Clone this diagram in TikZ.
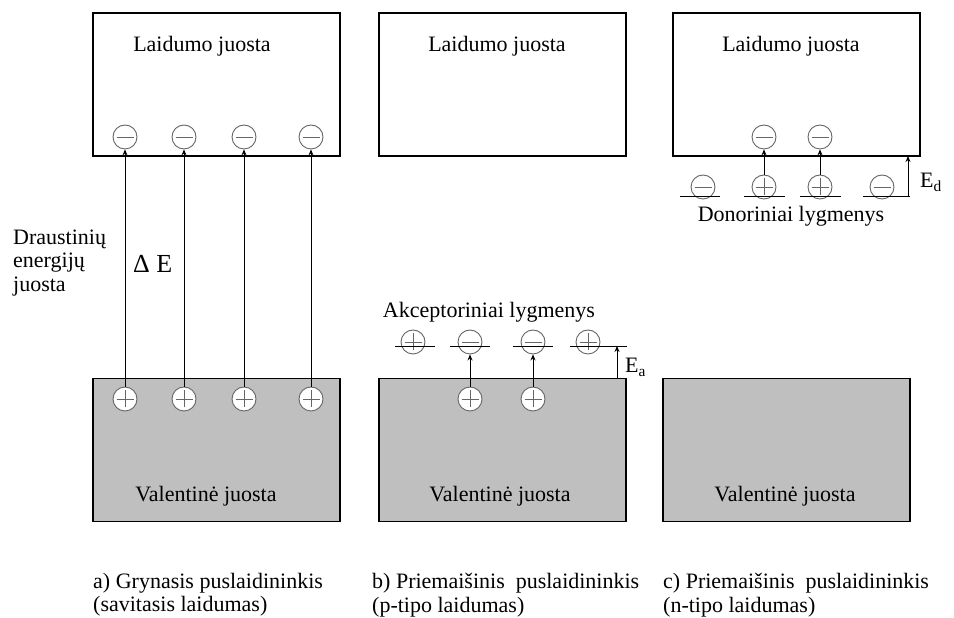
\documentclass[tikz,border=0pt]{standalone}
\usepackage{fontspec}
\setmainfont{Liberation Serif}
\usetikzlibrary{arrows.meta,positioning}
\tikzset{
  band/.style={draw, line width=1.8pt, minimum width=247pt, minimum height=143pt, inner sep=0pt},
  valence/.style={band, fill=gray!50},
  charge/.style={circle, draw=black!60, line width=0.9pt, fill=white, minimum size=24pt, inner sep=0pt},
  electron/.style={charge, path picture={\draw[line width=0.9pt] ([xshift=3.5pt]path picture bounding box.west) -- ([xshift=-3.5pt]path picture bounding box.east);}},
  hole/.style={charge, path picture={\draw[line width=0.9pt] ([xshift=3.5pt]path picture bounding box.west) -- ([xshift=-3.5pt]path picture bounding box.east) ([yshift=-3.5pt]path picture bounding box.north) -- ([yshift=3.5pt]path picture bounding box.south);}},
  level/.style={line width=0.9pt},
  jump/.style={->, line width=0.9pt},
  txt/.style={inner sep=0pt}
}

\begin{document}
\begin{tikzpicture}[x=1pt, y=1pt, font=\fontsize{22}{23.5}\selectfont, >={Stealth[length=6pt,width=5pt]}]
  \useasboundingbox (0,0) rectangle (954,618);
  % conduction and valence bands
  \node[band] (cba) at (216.5,533.5) {};
  \node[band] (cbb) at (502.5,533.5) {};
  \node[band] (cbc) at (796.5,533.5) {};
  \node[valence] (vba) at (216.5,168) {};
  \node[valence] (vbb) at (502.5,168) {};
  \node[valence] (vbc) at (786.5,168) {};
  \foreach \n/\x in {a/202,b/497,c/791}
    \node[txt, anchor=base] (lj\n) at (\x,566) {Laidumo juosta};
  \foreach \n/\x in {a/206,b/500,c/785}
    \node[txt, anchor=base] (vj\n) at (\x,116) {Valentinė juosta};
  % a) pure semiconductor
  \foreach \i/\x in {1/125,2/184,3/244,4/311} {
    \node[electron] (ea\i) at (\x,481) {};
    \node[hole] (ha\i) at (\x,219) {};
    \draw[jump] (ha\i) -- (ea\i);
  }
  \node[txt, anchor=base west, font=\fontsize{26}{28}\selectfont] (de) at (133,345) {Δ E};
  \node[txt, anchor=west, align=left] (gap) at (13,355) {Draustinių\\ energijų\\ juosta};
  % b) acceptor levels
  \node[hole] (ab1) at (413,276) {};
  \node[electron] (ab2) at (470,276) {};
  \node[electron] (ab3) at (533,276) {};
  \node[hole] (ab4) at (588,276) {};
  \foreach \x in {395,450,513} \draw[level] (\x,272) -- (\x+40,272);
  \draw[level] (570,272) -- (627,272);
  \node[hole] (hb2) at (470,219) {};
  \node[hole] (hb3) at (533,219) {};
  \draw[jump] (hb2) -- (ab2);
  \draw[jump] (hb3) -- (ab3);
  \coordinate (eab) at (617,240);
  \coordinate (eat) at (617,272);
  \draw[jump] (eab) -- (eat);
  \node[txt, anchor=base west] (ea) at (625,245) {E\textsubscript{a}};
  \node[txt, anchor=base] (akc) at (489,300) {Akceptoriniai lygmenys};
  % c) donor levels
  \node[electron] (dc1) at (703,431) {};
  \node[hole] (dc2) at (764,431) {};
  \node[hole] (dc3) at (820,431) {};
  \node[electron] (dc4) at (882,431) {};
  \draw[level] (680,422) -- (720,422);
  \draw[level] (744,422) -- (785,422);
  \draw[level] (800,422) -- (841,422);
  \draw[level] (863,422) -- (910,422);
  \node[electron] (ec2) at (764,481) {};
  \node[electron] (ec3) at (820,481) {};
  \draw[jump] (dc2) -- (ec2);
  \draw[jump] (dc3) -- (ec3);
  \coordinate (edb) at (908,422);
  \coordinate (edt) at (908,462);
  \draw[jump] (edb) -- (edt);
  \node[txt, anchor=base west] (ed) at (920,430) {E\textsubscript{d}};
  \node[txt, anchor=base] (don) at (791,396) {Donoriniai lygmenys};
  % captions
  \node[txt, anchor=north west, align=left] (capa) at (93,45) {a) Grynasis puslaidininkis\\ (savitasis laidumas)};
  \node[txt, anchor=north west, align=left] (capb) at (372,45) {b) Priemaišinis~ puslaidininkis\\ (p-tipo laidumas)};
  \node[txt, anchor=north west, align=left] (capc) at (663,45) {c) Priemaišinis~ puslaidininkis\\ (n-tipo laidumas)};
\end{tikzpicture}
\end{document}
